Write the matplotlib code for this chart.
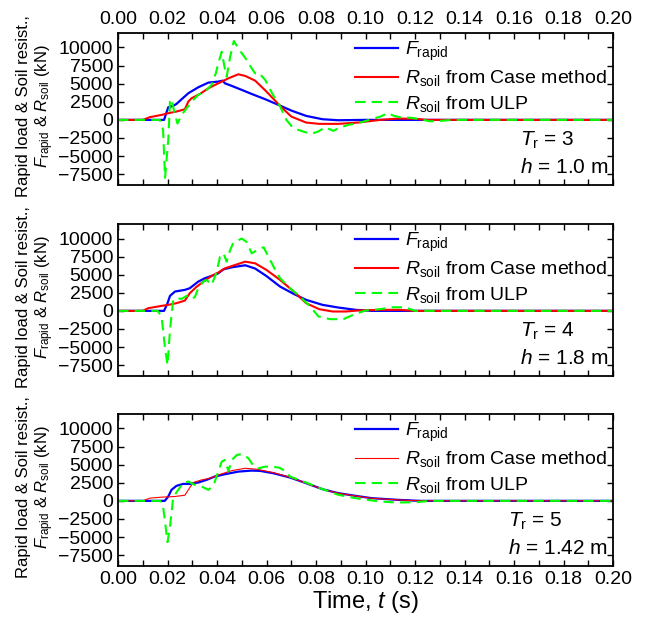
import numpy as np
import matplotlib
matplotlib.use('Agg')
import matplotlib.pyplot as plt
from matplotlib.ticker import MultipleLocator

plt.rcParams['font.family'] = ['Liberation Sans', 'DejaVu Sans']
plt.rcParams['mathtext.fontset'] = 'custom'
plt.rcParams['mathtext.rm'] = 'Liberation Sans'
plt.rcParams['mathtext.it'] = 'Liberation Sans:italic'

# パネル1  T_r = 3, h = 1.0 m
t1_F = [0, 0.0186, 0.0203, 0.0223, 0.0236, 0.0257, 0.0284, 0.0324, 0.0365, 0.0405, 0.0423, 0.0432,
        0.046, 0.050, 0.054, 0.0595, 0.0646, 0.070, 0.076, 0.0826, 0.089, 0.10, 0.2]
F1 = [0, 0, 1750, 1930, 2200, 2850, 3680, 4500, 5150, 5290, 5420, 5050,
      4690, 4140, 3580, 2850, 2100, 1290, 550, 90, -50, 0, 0]
t1_R = [0, 0.010, 0.0128, 0.0176, 0.0203, 0.0236, 0.027, 0.0284, 0.0297, 0.0331, 0.0365, 0.0405,
        0.0446, 0.0486, 0.0514, 0.0554, 0.060, 0.0655, 0.070, 0.076, 0.0813, 0.089, 0.097, 0.106,
        0.113, 0.12, 0.125, 0.2]
R1 = [0, 0, 370, 690, 920, 1150, 1470, 2530, 2990, 3580, 4370, 5050,
      5740, 6300, 6070, 5420, 3900, 1930, 460, -370, -550, -550, -370, 0,
      180, 150, 0, 0]
t1_U = [0, 0.0169, 0.0182, 0.019, 0.0203, 0.021, 0.0216, 0.0227, 0.024, 0.0257, 0.0277, 0.0304,
        0.0324, 0.0351, 0.0378, 0.0395, 0.0405, 0.0419, 0.043, 0.0439, 0.0453, 0.0468, 0.0486,
        0.052, 0.054, 0.0554, 0.0568, 0.0595, 0.0622, 0.0655, 0.068, 0.0708, 0.0748, 0.078,
        0.0809, 0.0836, 0.087, 0.089, 0.093, 0.097, 0.1015, 0.106, 0.109, 0.1115, 0.114, 0.118,
        0.122, 0.126, 0.13, 0.135, 0.2]
U1 = [0, 0, -1380, -8000, -2760, 2530, 2900, 1150, -500, 690, 1600, 2760,
      3450, 3900, 4830, 6430, 7810, 9420, 7350, 5970, 8730, 10900, 9880,
      8270, 7120, 6430, 6530, 5510, 3700, 1840, 0, -1150, -1610, -1930,
      -1610, -1010, -1520, -1150, -690, -460, 0, 460, 920, 550, 370, 300,
      100, -200, -150, 0, 0]

# パネル2  T_r = 4, h = 1.8 m
t2_F = [0, 0.0186, 0.020, 0.021, 0.023, 0.027, 0.029, 0.0324, 0.035, 0.0378, 0.0405, 0.0426,
        0.046, 0.0514, 0.0554, 0.060, 0.0655, 0.071, 0.076, 0.0826, 0.089, 0.096, 0.1025, 0.2]
F2 = [0, 0, 1060, 2070, 2670, 2900, 3130, 4040, 4500, 4830, 5190, 5740,
      6020, 6300, 5850, 4800, 3350, 2340, 1520, 830, 460, 140, 0, 0]
t2_R = [0, 0.010, 0.0122, 0.0176, 0.0203, 0.0236, 0.027, 0.029, 0.0318, 0.0345, 0.0378, 0.0405,
        0.0432, 0.0473, 0.0514, 0.0554, 0.060, 0.0655, 0.071, 0.076, 0.0813, 0.0867, 0.092,
        0.097, 0.1057, 0.1136, 0.12, 0.2]
R2 = [0, 0, 370, 690, 830, 1060, 1420, 2440, 3350, 4040, 4830, 5290,
      5880, 6340, 6800, 6570, 5650, 4270, 2670, 1060, 230, -90, -90,
      50, 140, 140, 0, 0]
t2_U = [0, 0.016, 0.0176, 0.0189, 0.020, 0.021, 0.0223, 0.0236, 0.0257, 0.0277, 0.029, 0.031,
        0.0324, 0.0345, 0.0358, 0.0378, 0.0399, 0.0412, 0.0426, 0.0439, 0.0453, 0.0466, 0.050,
        0.052, 0.054, 0.0574, 0.0588, 0.0608, 0.0635, 0.0655, 0.0695, 0.0735, 0.0776, 0.081,
        0.0857, 0.091, 0.095, 0.100, 0.1057, 0.111, 0.116, 0.12, 0.2]
U2 = [0, 0, -780, -4920, -7500, -2620, 1520, 1750, 1650, 2070, 1650, 1880,
      3130, 4040, 4270, 3580, 5420, 7490, 7950, 6800, 8410, 9420, 10000,
      9500, 7950, 8640, 8780, 7490, 5650, 4500, 3130, 1980, 600, -780,
      -1150, -1150, -550, 50, 230, 500, 500, 0, 0]

# パネル3  T_r = 5, h = 1.42 m
t3_F = [0, 0.0189, 0.0203, 0.0216, 0.0236, 0.0263, 0.029, 0.0324, 0.0358, 0.039, 0.0432, 0.0486,
        0.054, 0.0574, 0.0628, 0.0695, 0.076, 0.0826, 0.089, 0.096, 0.1025, 0.113, 0.122, 0.2]
F3 = [0, 0, 600, 1520, 2070, 2340, 2340, 2530, 2900, 3350, 3680, 4040,
      4180, 4140, 3810, 3220, 2440, 1610, 1060, 690, 370, 140, 0, 0]
t3_R = [0, 0.010, 0.0128, 0.0176, 0.023, 0.027, 0.0284, 0.0304, 0.0338, 0.0372, 0.0405, 0.046,
        0.0514, 0.056, 0.0628, 0.0695, 0.076, 0.0826, 0.089, 0.096, 0.1025, 0.113, 0.122, 0.2]
R3 = [0, 0, 370, 510, 600, 780, 1520, 2530, 2900, 3130, 3580, 4180,
      4500, 4370, 3900, 3250, 2440, 1610, 1040, 670, 350, 130, 0, 0]
t3_U = [0, 0.017, 0.0182, 0.0189, 0.020, 0.021, 0.0223, 0.0243, 0.0263, 0.0284, 0.031, 0.0338,
        0.0365, 0.0385, 0.0405, 0.0419, 0.0432, 0.0446, 0.046, 0.048, 0.050, 0.0527, 0.0547,
        0.0568, 0.0595, 0.0622, 0.065, 0.068, 0.0695, 0.076, 0.0816, 0.089, 0.096, 0.1057,
        0.113, 0.12, 0.126, 0.2]
U3 = [0, 0, -780, -2620, -5700, -3540, 510, 1520, 2440, 2670, 2210, 1980,
      1520, 2070, 4040, 5420, 5650, 4140, 5650, 6340, 6480, 5880, 4830,
      4500, 4730, 4700, 4600, 4040, 3350, 2530, 1750, 830, 370, -90,
      -230, -200, 0, 0]

panels = [
    (t1_F, F1, t1_R, R1, t1_U, U1, '3', '1.0'),
    (t2_F, F2, t2_R, R2, t2_U, U2, '4', '1.8'),
    (t3_F, F3, t3_R, R3, t3_U, U3, '5', '1.42'),
]
red_lw = [1.5, 1.5, 0.8]

fig = plt.figure(figsize=(6.46, 6.23), dpi=100)
boxes = [(0.703, 0.947), (0.3965, 0.6404), (0.0915, 0.3355)]
fs = 14

axes = []
h_texts = []
for i, (tf, f, tr, r, tu, u, tr_no, h) in enumerate(panels):
    b, t = boxes[i]
    ax = fig.add_axes([0.1827, b, 0.949 - 0.1827, t - b])
    ax.plot(tf, f, color='blue', lw=1.6, label=r'$F_{\rm rapid}$')
    ax.plot(tr, r, color='red', lw=red_lw[i], label=r'$R_{\rm soil}$ from Case method')
    ax.plot(tu, u, color='#00ff00', lw=1.5, dashes=(5, 3), label=r'$R_{\rm soil}$ from ULP')
    ax.set_xlim(0, 0.2)
    ax.set_ylim(-9000, 12000)
    ax.xaxis.set_major_locator(MultipleLocator(0.02))
    ax.xaxis.set_minor_locator(MultipleLocator(0.01))
    ax.set_yticks(np.arange(-7500, 10001, 2500))
    ax.tick_params(which='both', direction='in', top=True, right=True, length=4, width=1,
                   labelsize=fs)
    ax.tick_params(axis='x', pad=3.5)
    for sp in ax.spines.values():
        sp.set_linewidth(1.3)
    ax.xaxis.set_major_formatter(plt.FuncFormatter(lambda v, p: '%.2f' % v))
    if i == 0:
        ax.tick_params(axis='x', labeltop=True, labelbottom=False)
    elif i == 1:
        ax.tick_params(axis='x', labeltop=False, labelbottom=False)
    else:
        ax.set_xlabel(r'Time, $t$ (s)', fontsize=17, labelpad=1)
    ax.set_ylabel('Rapid load & Soil resist.,\n' + r'$F_{\rm rapid}$ & $R_{\rm soil}$ (kN)',
                  fontsize=12, linespacing=1.15)
    ax.yaxis.set_label_coords(-0.125, 0.52)
    ax.legend(loc='upper right', frameon=False, fontsize=fs, handlelength=2.2,
              handletextpad=0.35, labelspacing=0.28, borderaxespad=0.1, borderpad=0.25)
    ht = ax.text(0.99, 0.079, r'$h$ = ' + h + ' m', transform=ax.transAxes,
                 ha='right', va='baseline', fontsize=15)
    axes.append(ax)
    h_texts.append(ht)

# T_r の文字は h の行の左端にそろえる
fig.canvas.draw()
renderer = fig.canvas.get_renderer()
for ax, ht, p in zip(axes, h_texts, panels):
    bb = ht.get_window_extent(renderer)
    x0 = ax.transAxes.inverted().transform((bb.x0, bb.y0))[0]
    ax.text(x0, 0.257, r'$T_{\rm r}$ = ' + p[6], transform=ax.transAxes,
            ha='left', va='baseline', fontsize=15)

plt.savefig('out.png', dpi=100)
